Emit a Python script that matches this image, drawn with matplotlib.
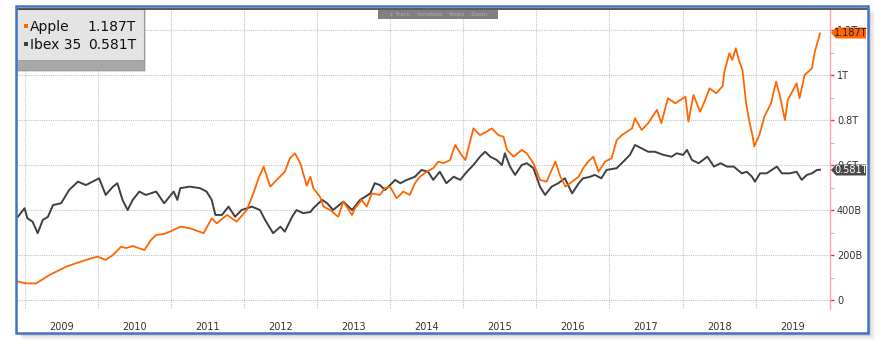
import matplotlib
matplotlib.use("Agg")
import matplotlib.pyplot as plt
from matplotlib.patches import Rectangle, Polygon

# market cap, billions USD (Ibex 35 rescaled the same way as on the terminal)
apple_t = [2008.91, 2009.02, 2009.16, 2009.34, 2009.57, 2009.70, 2009.84, 2010.00, 2010.11, 2010.21,
           2010.32, 2010.39, 2010.48, 2010.64, 2010.73, 2010.80, 2010.91, 2010.99, 2011.13, 2011.26,
           2011.45, 2011.56, 2011.63, 2011.77, 2011.90, 2012.04, 2012.13, 2012.20, 2012.27, 2012.36,
           2012.45, 2012.56, 2012.63, 2012.70, 2012.77, 2012.86, 2012.91, 2012.95, 2013.04, 2013.09,
           2013.18, 2013.29, 2013.36, 2013.48, 2013.52, 2013.61, 2013.68, 2013.75, 2013.86, 2013.93,
           2014.00, 2014.09, 2014.18, 2014.27, 2014.34, 2014.41, 2014.50, 2014.59, 2014.66, 2014.73,
           2014.82, 2014.89, 2014.96, 2015.03, 2015.14, 2015.23, 2015.32, 2015.39, 2015.48, 2015.55,
           2015.60, 2015.69, 2015.80, 2015.87, 2015.96, 2016.05, 2016.14, 2016.26, 2016.33, 2016.40,
           2016.49, 2016.58, 2016.64, 2016.71, 2016.78, 2016.85, 2016.94, 2017.03, 2017.10, 2017.17,
           2017.31, 2017.35, 2017.44, 2017.53, 2017.65, 2017.71, 2017.80, 2017.90, 2018.04, 2018.08,
           2018.15, 2018.24, 2018.30, 2018.37, 2018.46, 2018.55, 2018.57, 2018.64, 2018.68, 2018.73,
           2018.77, 2018.82, 2018.87, 2018.91, 2018.96, 2018.98, 2019.05, 2019.12, 2019.21, 2019.28,
           2019.33, 2019.40, 2019.44, 2019.56, 2019.60, 2019.67, 2019.77, 2019.81, 2019.88]
apple_v = [84, 76, 76, 113, 150, 165, 180, 195, 180, 202,
           239, 233, 242, 224, 269, 291, 296, 306, 328, 321,
           299, 365, 343, 380, 350, 402, 476, 543, 595, 506,
           536, 572, 632, 654, 611, 510, 550, 499, 461, 417,
           402, 372, 439, 380, 410, 447, 417, 476, 469, 499,
           506, 454, 484, 469, 521, 550, 572, 588, 617, 610,
           624, 691, 654, 624, 765, 735, 750, 765, 735, 728,
           669, 639, 669, 654, 610, 536, 528, 617, 550, 506,
           528, 550, 588, 617, 639, 572, 617, 632, 713, 735,
           765, 810, 758, 788, 847, 788, 899, 876, 906, 795,
           913, 839, 883, 943, 921, 953, 1013, 1099, 1069, 1121,
           1069, 1024, 876, 802, 728, 684, 735, 817, 876, 972,
           913, 802, 891, 965, 899, 1002, 1032, 1106, 1187]

ibex_t = [2008.91, 2009.00, 2009.04, 2009.11, 2009.18, 2009.25, 2009.32, 2009.39, 2009.50, 2009.61,
          2009.73, 2009.84, 2009.93, 2010.02, 2010.11, 2010.21, 2010.27, 2010.34, 2010.41, 2010.48,
          2010.57, 2010.66, 2010.80, 2010.91, 2011.04, 2011.09, 2011.13, 2011.26, 2011.40, 2011.49,
          2011.56, 2011.61, 2011.70, 2011.79, 2011.88, 2011.97, 2012.11, 2012.22, 2012.29, 2012.40,
          2012.50, 2012.56, 2012.66, 2012.72, 2012.81, 2012.91, 2012.95, 2013.07, 2013.14, 2013.22,
          2013.36, 2013.48, 2013.59, 2013.66, 2013.73, 2013.79, 2013.86, 2013.93, 2014.00, 2014.07,
          2014.14, 2014.23, 2014.34, 2014.43, 2014.52, 2014.59, 2014.68, 2014.77, 2014.87, 2014.96,
          2015.05, 2015.14, 2015.23, 2015.30, 2015.37, 2015.46, 2015.53, 2015.57, 2015.64, 2015.71,
          2015.80, 2015.87, 2015.96, 2016.05, 2016.12, 2016.21, 2016.30, 2016.39, 2016.49, 2016.58,
          2016.64, 2016.73, 2016.80, 2016.89, 2016.96, 2017.10, 2017.19, 2017.28, 2017.35, 2017.44,
          2017.53, 2017.62, 2017.74, 2017.85, 2017.92, 2018.01, 2018.06, 2018.13, 2018.22, 2018.34,
          2018.43, 2018.52, 2018.61, 2018.70, 2018.81, 2018.88, 2018.95, 2018.99, 2019.06, 2019.15,
          2019.22, 2019.29, 2019.36, 2019.47, 2019.56, 2019.63, 2019.70, 2019.77, 2019.84, 2019.88]
ibex_v = [372, 410, 365, 350, 299, 358, 372, 424, 432, 491,
          528, 513, 528, 543, 469, 506, 521, 447, 402, 447,
          484, 469, 484, 432, 484, 447, 499, 506, 499, 484,
          447, 380, 380, 417, 372, 402, 417, 402, 358, 299,
          328, 306, 372, 402, 388, 393, 410, 447, 432, 402,
          439, 402, 447, 461, 476, 521, 513, 491, 513, 536,
          521, 536, 550, 580, 572, 536, 572, 521, 550, 536,
          572, 602, 639, 661, 639, 624, 602, 654, 595, 558,
          602, 610, 588, 506, 469, 506, 521, 543, 476, 521,
          543, 549, 558, 543, 580, 588, 617, 647, 691, 676,
          661, 661, 647, 639, 654, 647, 669, 624, 610, 639,
          595, 610, 595, 595, 565, 572, 550, 528, 565, 565,
          580, 595, 565, 565, 572, 536, 558, 565, 580, 581]

years = list(range(2009, 2020))
ytick_vals = [0, 200, 400, 600, 800, 1000, 1200]
ytick_labels = ["0", "200B", "400B", "0.6T", "0.8T", "1T", "1.2T"]
apple_last = "1.187T"
ibex_last = "0.581T"

W, H = 890, 352
ORANGE = "#ff6600"
DARK = "#404040"


def fx(x):
    return x / W


def fy(y):
    return 1 - y / H


def box(x0, y0, x1, y1, **kw):
    r = Rectangle((fx(x0), fy(y1)), (x1 - x0) / W, (y1 - y0) / H,
                  transform=fig.transFigure, **kw)
    fig.add_artist(r)
    return r


fig = plt.figure(figsize=(W / 100, H / 100), dpi=100)

# drop shadow + frame
for off, a in [(7, 0.04), (5, 0.06), (3, 0.08)]:
    box(16 + off, 6 + off, 868 + off, 333 + off, facecolor="k", edgecolor="none", alpha=a, zorder=-5)
box(16, 6, 868, 333, facecolor="white", edgecolor="none", zorder=-4)

ax = fig.add_axes([fx(17), fy(309), (830 - 17) / W, (309 - 10) / H])
ax.set_facecolor("none")
ax.set_zorder(1)

ax.plot(ibex_t, ibex_v, color=DARK, lw=1.4)
ax.plot(apple_t, apple_v, color=ORANGE, lw=1.3)

ax.set_xlim(2008.897, 2020.017)
ax.set_ylim(-38, 1291)

ax.set_xticks([y + 0.5 for y in years], labels=[str(y) for y in years])
ax.set_xticks(years, minor=True)
ax.tick_params(axis="x", which="both", length=0, pad=9, labelsize=7, labelcolor="#333333")

ax.yaxis.tick_right()
ax.set_yticks(ytick_vals, labels=ytick_labels)
ax.set_yticks(range(100, 1300, 200), minor=True)
ax.tick_params(axis="y", which="major", length=3, width=1, color="#e8304a", pad=2,
               labelsize=7, labelcolor="#333333")
ax.tick_params(axis="y", which="minor", length=3, width=0.8, color="#f4a0aa")

ax.grid(axis="y", which="major", color="#c4c4c4", lw=0.8, ls=(0, (1, 1)))
ax.grid(axis="x", which="minor", color="#c4c4c4", lw=0.8, ls=(0, (1, 1)))

for s in ["top", "left", "bottom"]:
    ax.spines[s].set_visible(False)
ax.spines["right"].set_color("#f6a6b0")
ax.spines["right"].set_linewidth(1)

# top dark rule and blue frame
fig.add_artist(plt.Line2D([fx(17), fx(867)], [fy(9), fy(9)], transform=fig.transFigure,
                          color="#3c3c3c", lw=1.2, zorder=6))
box(16, 6, 868, 333, facecolor="none", edgecolor="#4472c4", lw=1.8, zorder=7)

# legend panel
box(17, 10, 146, 72, facecolor="k", edgecolor="none", alpha=0.12, zorder=5)
box(16, 9, 144, 70, facecolor="#e4e4e4", edgecolor="#9a9a9a", lw=0.8, zorder=5)
box(16, 60, 144, 70, facecolor="#a8a8a8", edgecolor="#9a9a9a", lw=0.6, zorder=5)
box(24, 24, 28, 28, facecolor=ORANGE, edgecolor="none", zorder=6)
box(24, 42, 28, 46, facecolor=DARK, edgecolor="none", zorder=6)
fig.text(fx(30), fy(27), "Apple", fontsize=10, color="#111111", va="center", ha="left", zorder=6)
fig.text(fx(136), fy(27), apple_last, fontsize=10, color="#111111", va="center", ha="right", zorder=6)
fig.text(fx(30), fy(45), "Ibex 35", fontsize=10, color="#111111", va="center", ha="left", zorder=6)
fig.text(fx(136), fy(45), ibex_last, fontsize=10, color="#111111", va="center", ha="right", zorder=6)

# toolbar strip
box(378, 10, 498, 19, facecolor="#808080", edgecolor="none", zorder=5)
fig.text(fx(438), fy(14.5), "+ Track    Annotate    News    Zoom", fontsize=4, color="#b0b0b0",
         va="center", ha="center", zorder=6)

# last-value tags (they sit over the 1.2T / 0.6T labels, as on the terminal)
for yc, fc, tc, txt in [(33, ORANGE, "#222222", apple_last), (170, "#4a4a4a", "white", ibex_last)]:
    pts = [(831, yc), (836, yc - 5.5), (866, yc - 5.5), (866, yc + 5.5), (836, yc + 5.5)]
    fig.add_artist(Polygon([(fx(a), fy(b)) for a, b in pts], closed=True, transform=fig.transFigure,
                           facecolor=fc, edgecolor="none", zorder=6))
    fig.text(fx(851), fy(yc), txt, fontsize=7, color=tc, va="center", ha="center", zorder=7)

fig.savefig("out.png", dpi=100)
